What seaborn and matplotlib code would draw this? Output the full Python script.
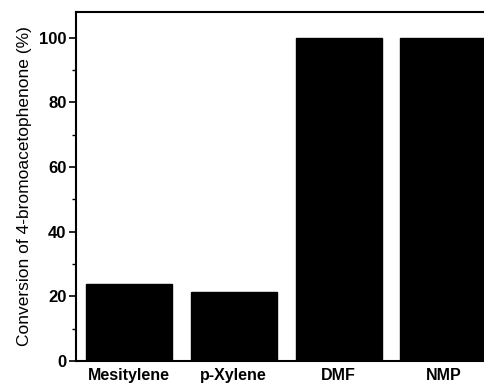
import matplotlib
matplotlib.use("Agg")
import matplotlib.pyplot as plt
import seaborn as sns
from matplotlib.ticker import MultipleLocator

solvents = ["Mesitylene", "p-Xylene", "DMF", "NMP"]
conversion = [24.0, 21.3, 100.0, 100.0]

sns.set_style("ticks")
plt.rcParams["font.family"] = ["Liberation Sans", "DejaVu Sans"]
plt.rcParams["text.color"] = "black"
plt.rcParams["axes.labelcolor"] = "black"
plt.rcParams["xtick.color"] = "black"
plt.rcParams["ytick.color"] = "black"

fig = plt.figure(figsize=(4.85, 3.85), dpi=100)
ax = fig.add_axes([0.157, 0.062, 0.843, 0.907])

sns.barplot(x=solvents, y=conversion, color="black", width=0.82,
            saturation=1, edgecolor="black", ax=ax)

ax.set_xlim(-0.5, 3.395)
ax.set_ylim(0, 108)
ax.yaxis.set_major_locator(MultipleLocator(20))
ax.yaxis.set_minor_locator(MultipleLocator(10))
ax.tick_params(axis="y", which="major", length=5, width=1.2, direction="out",
               labelsize=12, pad=2)
ax.tick_params(axis="y", which="minor", length=3, width=1, direction="out")
ax.tick_params(axis="x", length=0, labelsize=11.5, pad=5)
for lbl in ax.get_xticklabels() + ax.get_yticklabels():
    lbl.set_fontweight("bold")

ax.set_ylabel("Conversion of 4-bromoacetophenone (%)", fontsize=12.5, labelpad=5)

for side in ["left", "bottom", "top"]:
    ax.spines[side].set_visible(True)
    ax.spines[side].set_linewidth(1.5)
    ax.spines[side].set_color("black")
ax.spines["right"].set_visible(False)

fig.savefig("out.png", dpi=100)
